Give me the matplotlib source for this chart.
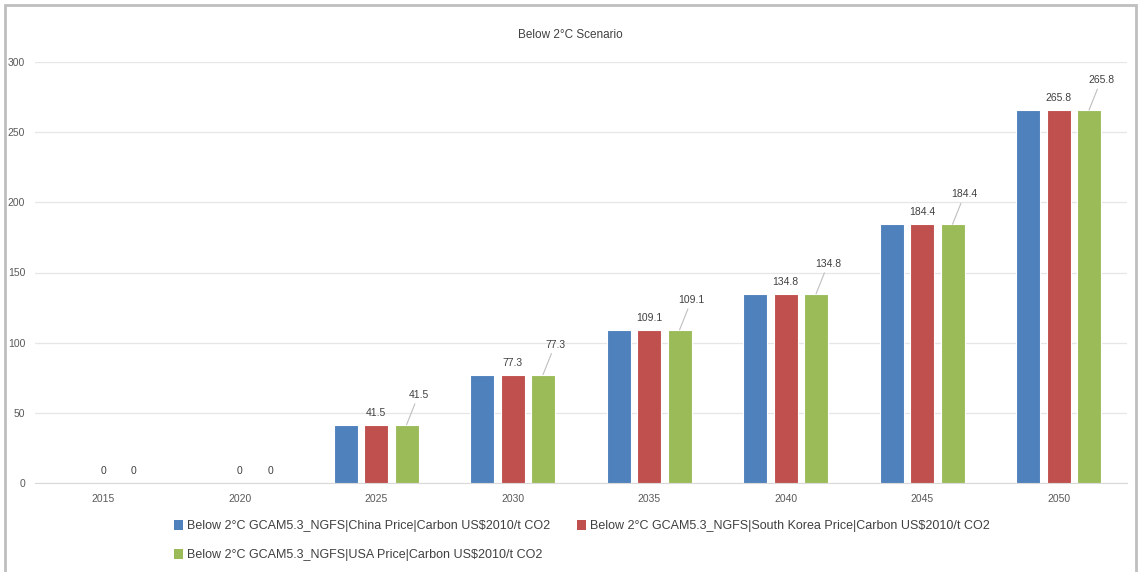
import matplotlib
matplotlib.use("Agg")
import matplotlib.pyplot as plt
from matplotlib.patches import Rectangle, Patch
import numpy as np

plt.rcParams['font.family'] = ['Liberation Sans', 'DejaVu Sans']

years = ["2015", "2020", "2025", "2030", "2035", "2040", "2045", "2050"]
china = [0, 0, 41.5, 77.3, 109.1, 134.8, 184.4, 265.8]
korea = [0, 0, 41.5, 77.3, 109.1, 134.8, 184.4, 265.8]
usa = [0, 0, 41.5, 77.3, 109.1, 134.8, 184.4, 265.8]
series_names = [
    "Below 2°C GCAM5.3_NGFS|China Price|Carbon US$2010/t CO2",
    "Below 2°C GCAM5.3_NGFS|South Korea Price|Carbon US$2010/t CO2",
    "Below 2°C GCAM5.3_NGFS|USA Price|Carbon US$2010/t CO2",
]
colors = ["#4F81BD", "#C0504D", "#9BBB59"]
title = "Below 2°C Scenario"
yticks = [0, 50, 100, 150, 200, 250, 300]

W, H = 1139, 572
fig = plt.figure(figsize=(W / 100, H / 100), dpi=100)
ax = fig.add_axes([35 / W, 1 - 483 / H, (1127 - 35) / W, (483 - 62) / H])

x = np.arange(len(years))
off = 0.222
bw = 0.176
data = [china, korea, usa]
for i, (vals, c) in enumerate(zip(data, colors)):
    ax.bar(x + (i - 1) * off, vals, width=bw, color=c, edgecolor="white",
           linewidth=0.8, zorder=3)

lab_col = "#404040"
# red labels: directly above
for xi, v in zip(x, korea):
    ax.annotate(f"{v:g}", xy=(xi, v), xytext=(0, 12), textcoords="offset pixels",
                ha="center", va="center", fontsize=7.5, color=lab_col, zorder=5)
# green labels: offset with leader line for non-zero
for xi, v in zip(x, usa):
    if v == 0:
        ax.annotate(f"{v:g}", xy=(xi + off, v), xytext=(0, 12), textcoords="offset pixels",
                    ha="center", va="center", fontsize=7.5, color=lab_col, zorder=5)
    else:
        ax.annotate(f"{v:g}", xy=(xi + off, v), xytext=(12, 30), textcoords="offset pixels",
                    ha="center", va="center", fontsize=7.5, color=lab_col, zorder=5,
                    arrowprops=dict(arrowstyle="-", color="#BFBFBF", lw=0.8,
                                    shrinkA=1, shrinkB=0))

ax.set_xlim(-0.5, len(years) - 0.5)
ax.set_ylim(0, 300)
ax.set_yticks(yticks)
ax.set_xticks(x)
ax.set_xticklabels(years)
ax.grid(axis="y", color="#E6E6E6", lw=0.9, zorder=0)
for s in ["top", "right", "left"]:
    ax.spines[s].set_visible(False)
ax.spines["bottom"].set_color("#D9D9D9")
ax.tick_params(axis="both", length=0, labelsize=7.5, labelcolor="#595959")
ax.tick_params(axis="x", pad=8)
ax.tick_params(axis="y", pad=7)

fig.text(570 / W, 1 - 35 / H, title, ha="center", va="center", fontsize=8.5, color="#404040")

handles = [Patch(facecolor=c, edgecolor="none") for c in colors]
order = [0, 2, 1]
leg = fig.legend([handles[i] for i in order], [series_names[i] for i in order],
                 loc="upper left",
                 bbox_to_anchor=(174 / W, 1 - 520 / H), ncol=2, frameon=False,
                 fontsize=9, handlelength=0.7, handleheight=0.8, handletextpad=0.3,
                 columnspacing=2.2, labelspacing=1.35, borderaxespad=0, borderpad=0)
for t in leg.get_texts():
    t.set_color("#404040")

# outer frame
fig.patches.append(Rectangle((5 / W, -0.1), (1136 - 5) / W, 1.1 - 5 / H,
                             transform=fig.transFigure, fill=False,
                             edgecolor="#BFBFBF", lw=2))

fig.savefig("out.png", dpi=100)
